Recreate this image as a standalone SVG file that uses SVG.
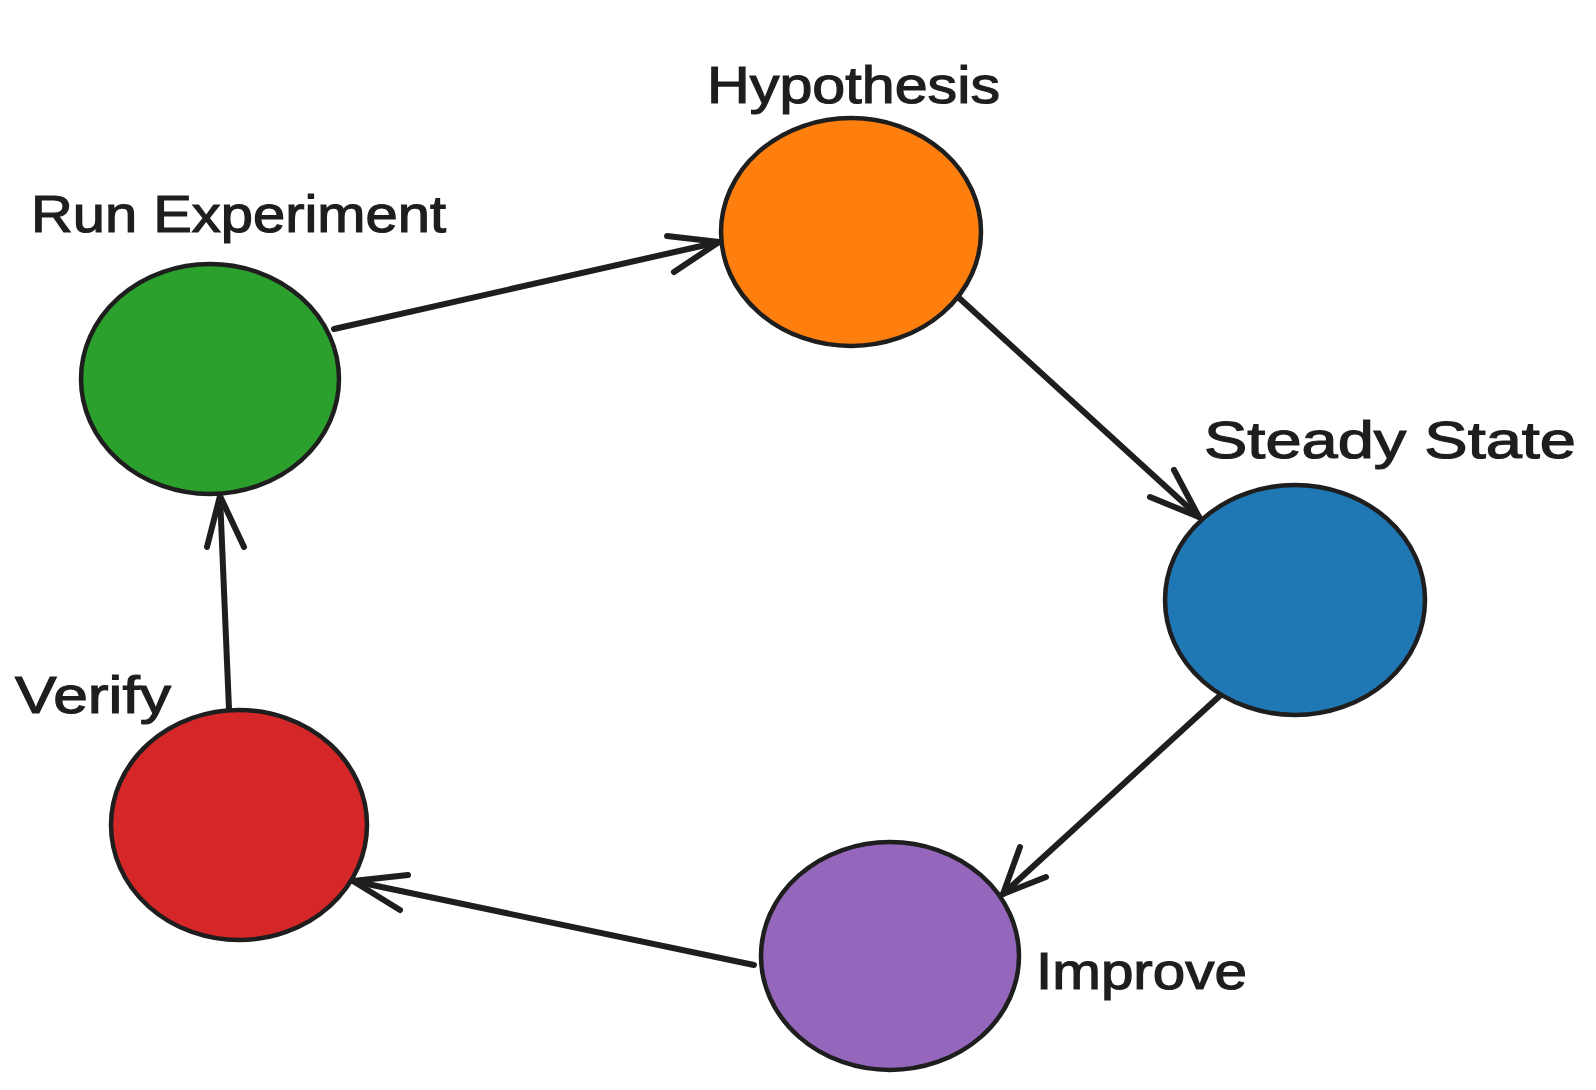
<svg xmlns="http://www.w3.org/2000/svg" width="1596" height="1090" viewBox="0 0 1596 1090">
  <style>
    .node { stroke: #1e1e1e; stroke-width: 4.5; }
    .label { font-family: "Liberation Sans", "DejaVu Sans", sans-serif; font-size: 52px; fill: #1e1e1e; stroke: #1e1e1e; stroke-width: 1.2; }
    .edge { fill: none; stroke: #1e1e1e; stroke-width: 6; stroke-linecap: round; stroke-linejoin: round; }
  </style>
  <rect width="1596" height="1090" fill="#ffffff"/>
  <g id="connectors">
    <g id="e-run-hyp"><path class="edge" d="M334 329 L719 242"/><path class="edge" d="M667 236 L719 242 L674 272"/></g>
    <g id="e-hyp-steady"><path class="edge" d="M958 297 L1199 517"/><path class="edge" d="M1174 470 L1199 517 L1150 497"/></g>
    <g id="e-steady-improve"><path class="edge" d="M1224 692 L1003 894"/><path class="edge" d="M1020 847 L1003 894 L1046 877"/></g>
    <g id="e-improve-verify"><path class="edge" d="M754 965 L353 881"/><path class="edge" d="M408 875 L353 881 L400 910"/></g>
    <g id="e-verify-run"><path class="edge" d="M229 709 L220 496"/><path class="edge" d="M207 547 L220 496 L244 547"/></g>
  </g>
  <g id="node-hypothesis">
    <ellipse class="node" cx="851" cy="232" rx="130" ry="114" fill="#ff7f0e"/>
    <text class="label" x="707" y="103" textLength="293" lengthAdjust="spacingAndGlyphs">Hypothesis</text>
  </g>
  <g id="node-run-experiment">
    <ellipse class="node" cx="210" cy="379" rx="129" ry="115" fill="#2ca02c"/>
    <text class="label" x="31" y="232" textLength="415" lengthAdjust="spacingAndGlyphs">Run Experiment</text>
  </g>
  <g id="node-steady-state">
    <ellipse class="node" cx="1295" cy="600" rx="130" ry="115" fill="#1f77b4"/>
    <text class="label" x="1204" y="458" textLength="372" lengthAdjust="spacingAndGlyphs">Steady State</text>
  </g>
  <g id="node-improve">
    <ellipse class="node" cx="890" cy="956" rx="129" ry="114" fill="#9467bd"/>
    <text class="label" x="1036" y="989" textLength="211" lengthAdjust="spacingAndGlyphs">Improve</text>
  </g>
  <g id="node-verify">
    <ellipse class="node" cx="239" cy="825" rx="128" ry="115" fill="#d62728"/>
    <text class="label" x="15" y="713" textLength="156" lengthAdjust="spacingAndGlyphs">Verify</text>
  </g>
</svg>
